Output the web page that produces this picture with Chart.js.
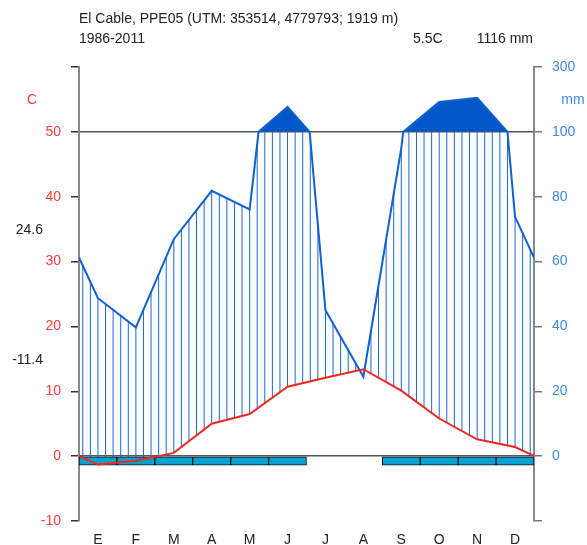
<!DOCTYPE html>
<html>
<head>
<meta charset="utf-8">
<script src="https://cdn.jsdelivr.net/npm/chart.js@4/dist/chart.umd.min.js"></script>
<style>
  html, body { margin: 0; padding: 0; background: #fff; }
  canvas { display: block; }
</style>
</head>
<body>
<canvas id="chart" width="587" height="545"></canvas>
<script>
// monthly means
const months = ["E", "F", "M", "A", "M", "J", "J", "A", "S", "O", "N", "D"];
const temperature = [-1.3, -0.7, 0.5, 5.0, 6.5, 10.7, 12.1, 13.4, 10.1, 5.8, 2.6, 1.4];
const precipitation = [48.7, 39.7, 66.9, 81.8, 76.1, 177, 45, 24.5, 95, 192, 205, 73.8];
const frostMonths = [1, 1, 1, 1, 1, 1, 0, 0, 1, 1, 1, 1];
const tempTicks = [-10, 0, 10, 20, 30, 40, 50, 60];

const stationTitle = "El Cable, PPE05 (UTM: 353514, 4779793; 1919 m)";
const period = "1986-2011";
const annualTemp = "5.5C";
const annualPrecip = "1116 mm";
const absMax = "24.6";
const absMin = "-11.4";

const FONT = '"Liberation Sans", Arial, sans-serif';
const FROST_DEPTH = -1.4;

// precipitation above 100 mm is drawn at 1/10 scale (Walter-Lieth)
function scalePrecip(p) {
  return p <= 100 ? p / 2 : 50 + (p - 100) / 20;
}

function precipPoints() {
  const edge = (precipitation[11] + precipitation[0]) / 2;
  const raw = [{ x: 0, p: edge }];
  precipitation.forEach((p, i) => raw.push({ x: i + 0.5, p: p }));
  raw.push({ x: 12, p: edge });
  const pts = [];
  raw.forEach((pt, i) => {
    if (i > 0) {
      const prev = raw[i - 1];
      if ((prev.p - 100) * (pt.p - 100) < 0) {
        const f = (100 - prev.p) / (pt.p - prev.p);
        pts.push({ x: prev.x + f * (pt.x - prev.x), y: 50 });
      }
    }
    pts.push({ x: pt.x, y: scalePrecip(pt.p) });
  });
  return pts;
}

function tempPoints() {
  const edge = (temperature[11] + temperature[0]) / 2;
  const pts = [{ x: 0, y: edge }];
  temperature.forEach((t, i) => pts.push({ x: i + 0.5, y: t }));
  pts.push({ x: 12, y: edge });
  return pts;
}

const hatchPlugin = {
  id: "hatch",
  beforeDatasetsDraw(chart) {
    const { ctx, chartArea: a, scales } = chart;
    const prec = chart.getDatasetMeta(1).data;
    const temp = chart.getDatasetMeta(2).data;
    const y50 = scales.y.getPixelForValue(50);
    ctx.save();
    ctx.beginPath();
    prec.forEach((p, i) => {
      const py = Math.max(p.y, y50);
      i ? ctx.lineTo(p.x, py) : ctx.moveTo(p.x, py);
    });
    ctx.lineTo(a.right, a.bottom);
    ctx.lineTo(a.left, a.bottom);
    ctx.closePath();
    ctx.clip();
    ctx.beginPath();
    temp.forEach((p, i) => (i ? ctx.lineTo(p.x, p.y) : ctx.moveTo(p.x, p.y)));
    ctx.lineTo(a.right, a.top);
    ctx.lineTo(a.left, a.top);
    ctx.closePath();
    ctx.clip();
    ctx.strokeStyle = "#1c66d4";
    ctx.lineWidth = 1;
    ctx.beginPath();
    for (let k = 0; k < 60; k++) {
      const px = scales.x.getPixelForValue(0.1 + 0.2 * k);
      ctx.moveTo(px, a.top);
      ctx.lineTo(px, a.bottom);
    }
    ctx.stroke();
    ctx.restore();
  },
  afterDraw(chart) {
    const ctx = chart.ctx;
    ctx.save();
    ctx.font = "14px " + FONT;
    ctx.textBaseline = "middle";
    ctx.fillStyle = "#222";
    ctx.textAlign = "left";
    ctx.fillText(stationTitle, 79, 19);
    ctx.fillText(period, 79, 39);
    ctx.fillText(annualTemp, 413, 39);
    ctx.textAlign = "right";
    ctx.fillText(annualPrecip, 533, 39);
    ctx.fillText(absMax, 43, 230);
    ctx.fillText(absMin, 43, 360);
    ctx.textAlign = "center";
    ctx.fillStyle = "#ff3b3b";
    ctx.fillText("C", 32, 100);
    ctx.fillStyle = "#3d8ae3";
    ctx.fillText("mm", 573, 100);
    ctx.restore();
  }
};

const ctx = document.getElementById("chart").getContext("2d");
const chart = new Chart(ctx, {
  type: "line",
  data: {
    datasets: [
      {
        type: "bar",
        label: "frost",
        data: frostMonths.map((f, i) => ({ x: i + 0.5, y: f ? [FROST_DEPTH, 0] : null })),
        backgroundColor: "#09a0d0",
        borderColor: "#111",
        borderWidth: 1,
        borderSkipped: false,
        barPercentage: 1,
        categoryPercentage: 1,
        order: 3
      },
      {
        label: "Precipitación (mm)",
        data: precipPoints(),
        borderColor: "#1060d0",
        borderWidth: 2,
        pointRadius: 0,
        tension: 0,
        fill: { target: { value: 50 }, above: "#0057c6", below: "rgba(0,0,0,0)" },
        order: 2
      },
      {
        label: "Temperatura (C)",
        data: tempPoints(),
        borderColor: "#f0281e",
        borderWidth: 2,
        pointRadius: 0,
        tension: 0,
        fill: false,
        order: 1
      }
    ]
  },
  plugins: [hatchPlugin],
  options: {
    responsive: false,
    animation: false,
    layout: { padding: { top: 67, left: 0, right: 0, bottom: 0 } },
    plugins: { legend: { display: false }, tooltip: { enabled: false } },
    scales: {
      x: {
        type: "linear",
        min: 0,
        max: 12,
        offset: false,
        afterBuildTicks: (s) => { s.ticks = months.map((m, i) => ({ value: i + 0.5 })); },
        ticks: {
          callback: (v, i) => months[i],
          autoSkip: false,
          maxRotation: 0,
          color: "#222",
          font: { family: FONT, size: 14 },
          padding: 11
        },
        grid: { display: false, drawTicks: false },
        border: { display: false },
        afterFit: (s) => { s.height = 24; }
      },
      y: {
        type: "linear",
        position: "left",
        min: -10,
        max: 60,
        afterBuildTicks: (s) => { s.ticks = tempTicks.map((v) => ({ value: v })); },
        ticks: {
          callback: (v) => (v === 60 ? "" : v),
          color: "#ff3b3b",
          font: { family: FONT, size: 14 },
          padding: 10
        },
        grid: {
          color: (c) => (c.tick && (c.tick.value === 0 || c.tick.value === 50) ? "#555" : "rgba(0,0,0,0)"),
          tickColor: "#333",
          tickLength: 8,
          lineWidth: 1.5
        },
        border: { color: "#888", width: 2 },
        afterFit: (s) => { s.width = 79; }
      },
      y2: {
        type: "linear",
        position: "right",
        min: -10,
        max: 60,
        afterBuildTicks: (s) => { s.ticks = tempTicks.map((v) => ({ value: v })); },
        ticks: {
          callback: (v) => (v < 0 ? "" : v <= 50 ? v * 2 : 100 + (v - 50) * 20),
          color: "#3d8ae3",
          font: { family: FONT, size: 14 },
          padding: 10
        },
        grid: { drawOnChartArea: false, tickColor: "#777", tickLength: 8, lineWidth: 1.5 },
        border: { color: "#888", width: 2 },
        afterFit: (s) => { s.width = 53; }
      }
    }
  }
});
</script>
</body>
</html>
